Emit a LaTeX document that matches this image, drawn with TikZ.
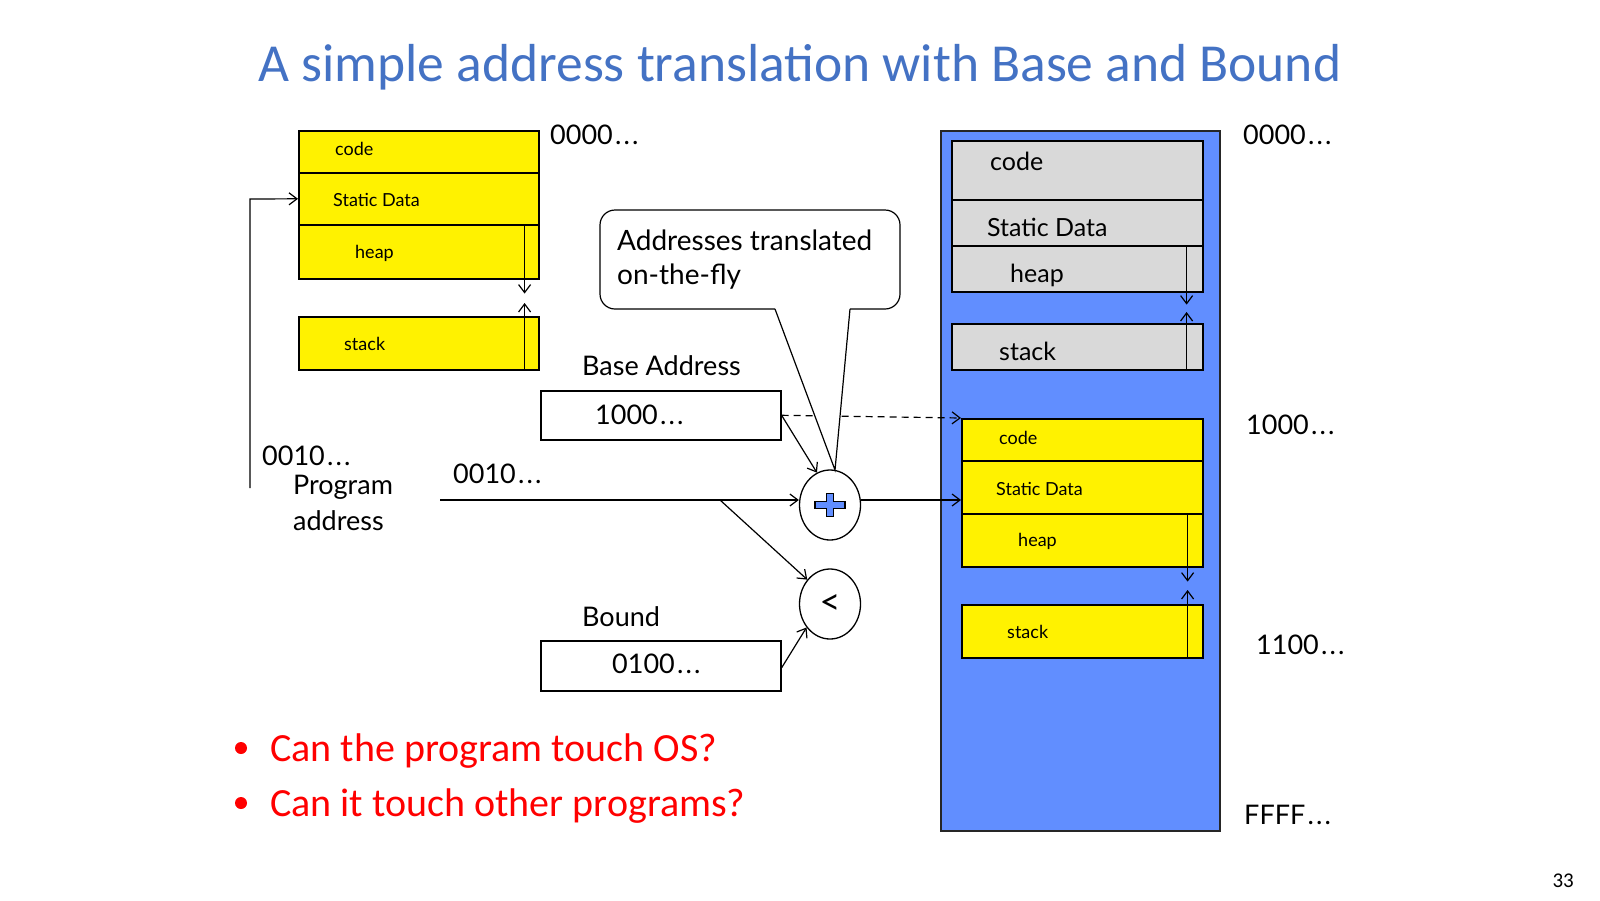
\documentclass[tikz,border=0pt]{standalone}
\usepackage{fontspec}
\setmainfont{Lato}
\newfontfamily\cali{Carlito}
\usetikzlibrary{arrows.meta,shapes.geometric,calc}
\definecolor{titleblue}{RGB}{68,114,196}
\definecolor{memblue}{RGB}{97,142,255}
\definecolor{boxgray}{RGB}{217,217,217}
\definecolor{bulletred}{RGB}{255,0,0}
\newcommand\mydots{\kern0.08em.\kern0.08em.\kern0.08em.}
\begin{document}
\begin{tikzpicture}[x=1pt,y=-1pt,
  >={Straight Barb[length=8pt,width=12pt]},
  seg/.style={draw, line width=1.6pt, anchor=north west, inner sep=0pt},
  yseg/.style={seg, fill=yellow},
  gseg/.style={seg, fill=boxgray},
  regbox/.style={seg, fill=white},
  conn/.style={line width=1.2pt},
  small/.style={anchor=base west, inner sep=0pt, font=\fontsize{18}{20}\selectfont},
  mid/.style={anchor=base west, inner sep=0pt, font=\fontsize{25}{28}\selectfont},
  big/.style={anchor=base west, inner sep=0pt, font=\fontsize{27}{30}\selectfont},
  op/.style={ellipse, draw, line width=1.3pt, fill=white, minimum width=61pt, minimum height=70pt, inner sep=0pt}
]
\useasboundingbox (0,0) rectangle (1600,900);

% title
\node[anchor=base, inner sep=0pt, text=titleblue, font=\cali\fontsize{53.5}{58}\selectfont] (title) at (800,81) {A simple address translation with Base and Bound};

% ---------- program (left) ----------
\node[yseg, minimum width=240pt, minimum height=42pt] (lcode) at (298,130) {};
\node[yseg, minimum width=240pt, minimum height=52pt] (lstatic) at (298,172) {};
\node[yseg, minimum width=240pt, minimum height=54pt] (lheap) at (298,224) {};
\node[yseg, minimum width=240pt, minimum height=53pt] (lstack) at (298,316) {};
\node[small] (tlcode) at (335,155.5) {code};
\node[small] (tlstatic) at (333,206) {Static Data};
\node[small] (tlheap) at (355,258) {heap};
\node[small] (tlstack) at (344,350) {stack};
\draw[conn,->] ($(lheap.north east)+(-15,0)$) -- ($(lheap.south east)+(-15,14)$);
\draw[conn,->] ($(lstack.south east)+(-15,0)$) -- ($(lstack.north east)+(-15,-13)$);
\node[big] (l0000) at (550,144) {0000\mydots};

% ---------- memory (right) ----------
\node[seg, fill=memblue, draw=black!85, minimum width=279pt, minimum height=700pt] (mem) at (940,130) {};
\node[gseg, minimum width=251pt, minimum height=59pt] (gcode) at (951,140) {};
\node[gseg, minimum width=251pt, minimum height=46pt] (gstatic) at (951,199) {};
\node[gseg, minimum width=251pt, minimum height=46pt] (gheap) at (951,245) {};
\node[gseg, minimum width=251pt, minimum height=46pt] (gstack) at (951,323) {};
\node[mid] (tgcode) at (990,170) {code};
\node[mid] (tgstatic) at (987,236.5) {Static Data};
\node[mid] (tgheap) at (1010,282) {heap};
\node[mid] (tgstack) at (999,360.5) {stack};
\draw[conn,->] ($(gheap.north east)+(-17,0)$) -- ($(gheap.south east)+(-17,12)$);
\draw[conn,->] ($(gstack.south east)+(-17,0)$) -- ($(gstack.north east)+(-17,-11)$);

\node[yseg, minimum width=241pt, minimum height=42pt] (ycode) at (961,418) {};
\node[yseg, minimum width=241pt, minimum height=53pt] (ystatic) at (961,460) {};
\node[yseg, minimum width=241pt, minimum height=53pt] (yheap) at (961,513) {};
\node[yseg, minimum width=241pt, minimum height=53pt] (ystack) at (961,604) {};
\node[small] (tycode) at (999,444) {code};
\node[small] (tystatic) at (996,495) {Static Data};
\node[small] (tyheap) at (1018,546.5) {heap};
\node[small] (tystack) at (1007,638) {stack};
\draw[conn,->] ($(yheap.north east)+(-16,0)$) -- ($(yheap.south east)+(-16,14)$);
\draw[conn,->] ($(ystack.south east)+(-16,0)$) -- ($(ystack.north east)+(-16,-14)$);

\node[big] (r0000) at (1243,144) {0000\mydots};
\node[big] (r1000) at (1246,434) {1000\mydots};
\node[big] (r1100) at (1256,654) {1100\mydots};
\node[big] (rffff) at (1244,824) {FFFF\mydots};

% ---------- registers ----------
\node[big] (tbase) at (582,375) {Base Address};
\node[regbox, minimum width=240pt, minimum height=49pt] (base) at (540,390) {};
\node[big] (vbase) at (595,424) {1000\mydots};
\node[big] (tbound) at (582,626) {Bound};
\node[regbox, minimum width=240pt, minimum height=50pt] (bound) at (540,640) {};
\node[big] (vbound) at (612,673) {0100\mydots};

% ---------- operators ----------
\node[op] (plus) at (830,505) {};
\filldraw[fill=memblue, line width=1.1pt, shift={(plus.center)}]
  (-3.5,-11.5) -- (3.5,-11.5) -- (3.5,-3.5) -- (15,-3.5) -- (15,3.5) -- (3.5,3.5)
  -- (3.5,11.5) -- (-3.5,11.5) -- (-3.5,3.5) -- (-15,3.5) -- (-15,-3.5) -- (-3.5,-3.5) -- cycle;
\node[op, font=\fontsize{36}{40}\selectfont] (less) at (830,604) {<};

% ---------- program address ----------
\node[big] (pa0010) at (262,465) {0010\mydots};
\node[big] (prog) at (293,494) {Program};
\node[big] (addr) at (293,530) {address};
\node[big] (pa0010b) at (453,483) {0010\mydots};
\coordinate (pa) at (440,500);
\coordinate (split) at (720,500);
\coordinate (pb) at (250,488);

% connectors
\draw[conn,dash pattern=on 7pt off 5pt,->] (base.east) -- (ycode.north west);
\draw[conn,->] (base.east) -- (plus.112);
\draw[conn,->] (pa) -- (pa -| plus.west);
\draw[conn,->] (pa -| plus.east) -- (pa -| ystatic.west);
\draw[conn,->] (split) -- (less.133);
\draw[conn,->] ([yshift=-2pt]bound.east) -- (less.225);
\draw[conn,->] (pb) -- (250,199) -- (lstatic.west);

% ---------- callout ----------
\coordinate (ctip) at (835,470);
\fill[white, rounded corners=15pt] (600,210) rectangle (900,309);
\fill[white] (775,307) -- (ctip) -- (850,307) -- cycle;
\draw[conn, rounded corners=15pt] (775,309) -- (600,309) -- (600,210) -- (900,210) -- (900,309) -- (850,309);
\draw[conn] (850,309) -- (ctip) -- (775,309);
\node[anchor=base west, inner sep=0pt, font=\fontsize{28}{34}\selectfont] (call1) at (617,250) {Addresses translated};
\node[anchor=base west, inner sep=0pt, font=\fontsize{28}{34}\selectfont] (call2) at (617,284) {on-the-fly};

% ---------- bullets ----------
\fill[bulletred] (241,748) circle (6pt);
\fill[bulletred] (241,803) circle (6pt);
\node[anchor=base west, inner sep=0pt, text=bulletred, font=\cali\fontsize{40}{44}\selectfont] (b1) at (270,761) {Can the program touch OS?};
\node[anchor=base west, inner sep=0pt, text=bulletred, font=\cali\fontsize{40}{44}\selectfont] (b2) at (270,816) {Can it touch other programs?};

% page number
\node[anchor=base east, inner sep=0pt, font=\cali\fontsize{21}{23}\selectfont] (pnum) at (1574,887) {33};
\end{tikzpicture}
\end{document}
